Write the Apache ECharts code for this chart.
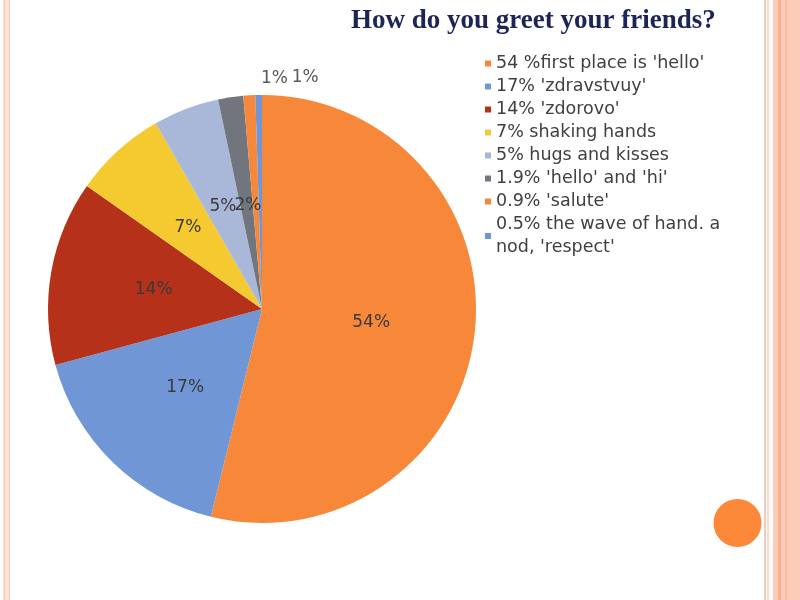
<!DOCTYPE html>
<html>
<head>
<meta charset="utf-8">
<script src="https://cdn.jsdelivr.net/npm/echarts@6/dist/echarts.min.js"></script>
<style>
  html, body { margin: 0; padding: 0; background: #fff; }
  #main { width: 800px; height: 600px; }
</style>
</head>
<body>
<div id="main"></div>
<script>
// survey answers, clockwise from 12 o'clock
var names = [
  "54 %first place is 'hello'",
  "17% 'zdravstvuy'",
  "14% 'zdorovo'",
  "7% shaking hands",
  "5% hugs and kisses",
  "1.9% 'hello' and 'hi'",
  "0.9% 'salute'",
  "0.5% the wave of hand. a nod, 'respect'"
];
var values = [54, 17, 14, 7, 5, 1.9, 0.9, 0.5];
var colors = ['#F7883A', '#7196D6', '#B53119', '#F4CA30', '#A9B8D9', '#71767E', '#F7883A', '#7196D6'];

// narrow slices: nudge labels (the two tiny ones go above the pie)
var labelShift = { 5: [2, 5], 6: [19, -121], 7: [45, -121] };

function getOption() {
  var data = names.map(function (n, i) {
    var item = { name: n, value: values[i], itemStyle: { color: colors[i] } };
    if (labelShift[i]) {
      item.label = { offset: labelShift[i] };
      if (i > 5) item.label.color = '#595959';
    }
    return item;
  });

  var option = {
    backgroundColor: '#fff',
    animation: false,
    title: {
      text: 'How do you greet your friends?',
      left: 351,
      top: 8,
      padding: 0,
      textStyle: {
        fontFamily: '"Liberation Serif", "Times New Roman", serif',
        fontWeight: 'bold',
        fontSize: 27,
        color: '#1B2657'
      }
    },
    legend: {
      orient: 'vertical',
      left: 485,
      top: 52,
      padding: 0,
      itemWidth: 6,
      itemHeight: 6,
      itemGap: 0,
      icon: 'rect',
      selectedMode: false,
      data: names,
      textStyle: {
        fontFamily: '"DejaVu Sans", sans-serif',
        fontSize: 17.5,
        lineHeight: 23,
        color: '#404040',
        width: 245,
        overflow: 'break'
      }
    },
    series: [{
      type: 'pie',
      center: [262, 309],
      radius: 214,
      startAngle: 90,
      clockwise: true,
      avoidLabelOverlap: false,
      labelLayout: { hideOverlap: false },
      label: {
        position: 'inside',
        fontFamily: '"DejaVu Sans", sans-serif',
        fontSize: 17,
        color: '#3a3a3a',
        formatter: function (p) {
          return Math.round(p.value) + '%';
        }
      },
      labelLine: { show: false },
      emphasis: { disabled: true },
      data: data
    }],
    // slide decoration: thin left border, striped right band, orange dot
    graphic: [
      { type: 'rect', shape: { x: 3, y: 0, width: 7, height: 600 }, style: { fill: '#FDE3D9' } },
      { type: 'rect', shape: { x: 4, y: 0, width: 1, height: 600 }, style: { fill: '#F9C6B4' } },
      { type: 'rect', shape: { x: 9, y: 0, width: 1, height: 600 }, style: { fill: '#F9C6B4' } },
      { type: 'rect', shape: { x: 764, y: 0, width: 2, height: 600 }, style: { fill: '#F9C9B8' } },
      { type: 'rect', shape: { x: 767, y: 0, width: 2, height: 600 }, style: { fill: '#FBD9CC' } },
      { type: 'rect', shape: { x: 773, y: 0, width: 27, height: 600 }, style: { fill: '#FDCBB8' } },
      { type: 'rect', shape: { x: 778, y: 0, width: 3, height: 600 }, style: { fill: '#F5B295' } },
      { type: 'rect', shape: { x: 785, y: 0, width: 2, height: 600 }, style: { fill: '#F9BCA3' } },
      { type: 'circle', shape: { cx: 737.5, cy: 523, r: 24 }, style: { fill: '#FC8839' } }
    ]
  };
  return option;
}

var chart = echarts.init(document.getElementById('main'), null, { renderer: 'canvas' });
chart.setOption(getOption());
</script>
</body>
</html>
